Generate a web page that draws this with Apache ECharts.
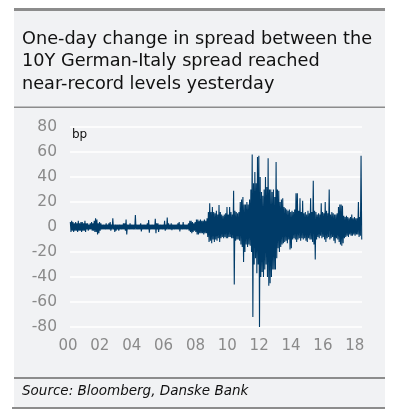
<!DOCTYPE html>
<html><head><meta charset="utf-8">
<script src="https://cdn.jsdelivr.net/npm/echarts@6/dist/echarts.min.js"></script>
<style>html,body{margin:0;padding:0;background:#fff}#c{width:398px;height:415px}</style>
</head><body><div id="c"></div>
<script>
// Monthly envelope of the one-day change (bp), Jan 2000 - Apr/May 2018
var startYear = 2000;
var monthHigh = [
  4,5,4,3,4,3,5,3,4,4,3,5,          // 2000
  3,3,2,3,4,3,5,7,6,3,4,3,          // 2001
  2,2,2,3,2,3,4,2,7,2,2,2,          // 2002
  2,2,2,2,3,3,6,2,2,3,2,2,          // 2003
  2,9.5,2,2,2,3,2,2,2,2,3,5.5,      // 2004
  2,2,2,2,6.5,3,3,2,2,2,2,5,        // 2005
  2,7.5,3,2,3,2,2,2,2,3,4,2,        // 2006
  2,4,2,2,2,3,5,5,4,3,4,6,          // 2007
  6,5,6,5,5,6,5,7,12,19,12,16,      // 2008
  12,11,13,10,17.5,12,10,9,10,11,16,10, // 2009
  16,12,10,29,13,12,11,12,20,22,24,18,  // 2010
  18,20,18,22,30,58,35,44,35,56,57,40,  // 2011
  28,25,30,40,32,55,30,30,28,30,24,52,  // 2012
  30,29,20,22,23,16,15,14,13,14,12,13,  // 2013
  12,14,27,27,13,23,12,21,11,12,10,13,  // 2014
  11,23,12,37,13,12,10,11,10,19,12,11,  // 2015
  20,13,11,30,10,12,11,10,10,11,16,18,  // 2016
  18,17,9,8,9,8,7,8,10,7,8,7,           // 2017
  7,20,8,57                             // 2018
];
var monthLow = [
  -4,-3,-4,-3,-3,-4,-3,-3,-4,-3,-3,-4,
  -2,-3,-2,-2,-3,-3,-4,-4,-6,-5,-3,-2,
  -2,-2,-2,-2,-2,-2,-3,-2,-2,-4,-3,-2,
  -3,-2,-2,-2,-2,-3,-6,-2,-2,-2,-2,-2,
  -2,-2,-2,-2,-2,-3.5,-2,-2,-2,-2,-2,-4.5,
  -2,-2,-2,-2,-5,-2,-4,-2,-2,-2,-2,-3,
  -2,-2,-2,-2,-2.5,-2,-2,-2,-2,-2,-3.5,-2,
  -2,-2,-2,-2,-2,-3,-4,-5,-4,-3,-4,-6,
  -6,-5,-5,-5,-6,-5,-5,-8,-12,-11,-13,-10,
  -12,-10,-11,-9,-12,-9,-8,-9,-8,-9,-9,-8,
  -8,-9,-9,-46,-11,-10,-10,-11,-14,-16,-28,-20,
  -14,-16,-14,-15,-20,-72,-30,-25,-37,-30,-80,-40,
  -36,-40,-34,-30,-40,-47,-45,-40,-34,-34,-34,-25,
  -17,-20,-16,-14,-13,-12,-11,-13,-10,-18,-17,-10,
  -9,-10,-12,-10,-9,-11,-9,-10,-9,-11,-12,-9,
  -10,-10,-12,-14,-26,-10,-8,-9,-7,-9,-8,-10,
  -12,-9,-8,-10,-9,-8,-11,-13,-9,-10,-12,-14,
  -15,-13,-9,-8,-7,-8,-6,-7,-7,-6,-7,-6,
  -6,-8,-7,-10
];
var yTicks = [-80,-60,-40,-20,0,20,40,60,80];
var xTickYears = [2000,2002,2004,2006,2008,2010,2012,2014,2016,2018];

var seriesData = [];
for (var m = 0; m < monthHigh.length; m++) {
  seriesData.push([startYear + (m + 0.25) / 12, monthHigh[m]]);
  seriesData.push([startYear + (m + 0.75) / 12, monthLow[m]]);
}

var chart = echarts.init(document.getElementById('c'), null, {renderer: 'canvas'});
var FONT = 'DejaVu Sans';
chart.setOption({
  animation: false,
  backgroundColor: '#ffffff',
  graphic: [
    {type: 'rect', shape: {x: 14, y: 9, width: 371, height: 400}, style: {fill: '#f1f2f4'}, z: -10},
    {type: 'rect', shape: {x: 14, y: 8, width: 371, height: 3}, style: {fill: '#8c8c8c'}},
    {type: 'rect', shape: {x: 14, y: 106.5, width: 371, height: 1.5}, style: {fill: '#8c8c8c'}},
    {type: 'rect', shape: {x: 14, y: 377, width: 371, height: 2}, style: {fill: '#8c8c8c'}},
    {type: 'rect', shape: {x: 12, y: 407, width: 373, height: 2}, style: {fill: '#8c8c8c'}},
    {type: 'text', left: 22, top: 28, style: {text: 'One-day change in spread between the\n10Y German-Italy spread reached\nnear-record levels yesterday', font: '17.7px "' + FONT + '"', fill: '#111', lineHeight: 22.5}},
    {type: 'text', left: 22, top: 384, style: {text: 'Source: Bloomberg, Danske Bank', font: 'italic 13.5px "' + FONT + '"', fill: '#111'}},
    {type: 'text', left: 72, top: 129, style: {text: 'bp', font: '12px "' + FONT + '"', fill: '#111'}}
  ],
  grid: {left: 70, right: 36, top: 127, bottom: 88, containLabel: false},
  xAxis: {
    type: 'value', min: 2000, max: 2018.33, interval: 2,
    axisLine: {show: false}, axisTick: {show: false}, splitLine: {show: false},
    axisLabel: {
      showMaxLabel: false, margin: 12, color: '#8a8a8a', fontSize: 15, fontFamily: FONT,
      padding: [0, 4, 0, 0],
      formatter: function (v) { return xTickYears.indexOf(Math.round(v)) >= 0 ? String(Math.round(v)).slice(2) : ''; }
    }
  },
  yAxis: {
    type: 'value', min: -80, max: 80, interval: 20,
    axisLine: {show: false}, axisTick: {show: false},
    splitLine: {lineStyle: {color: '#ffffff', width: 1.5}},
    axisLabel: {margin: 13, color: '#8a8a8a', fontSize: 15.5, fontFamily: FONT,
      formatter: function (v) { return yTicks.indexOf(v) >= 0 ? String(v) : ''; }}
  },
  series: [{
    type: 'line', data: seriesData, symbol: 'none', sampling: false,
    lineStyle: {color: '#003b68', width: 1.1}, itemStyle: {color: '#003b68'}
  }]
});
</script></body></html>
